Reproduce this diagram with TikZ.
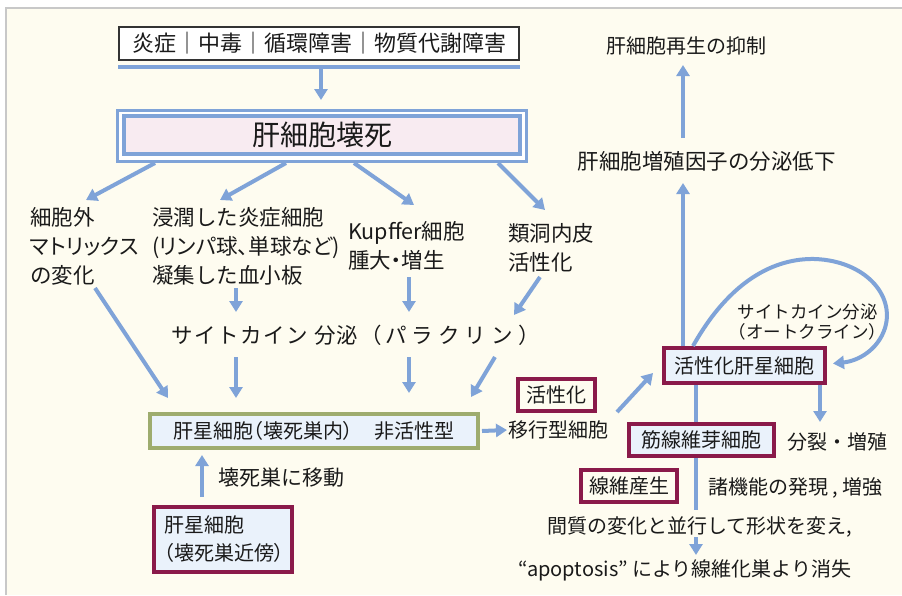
\documentclass[tikz,border=0pt]{standalone}
\usepackage{fontspec}
\setmainfont{Noto Sans CJK JP}
\newfontfamily\jpp{Noto Sans CJK JP}[RawFeature=+palt]
\usetikzlibrary{arrows.meta,calc}
\definecolor{bgc}{HTML}{FEFCF0}
\definecolor{arrc}{HTML}{7FA3D8}
\definecolor{mar}{HTML}{8A1A4A}
\definecolor{olv}{HTML}{9EAC6E}
\definecolor{lbfill}{HTML}{EAF2FB}
\definecolor{pnk}{HTML}{F8EBF1}
\definecolor{txt}{HTML}{1A1A1A}
\definecolor{frm}{HTML}{C8C8C8}
\newcommand\fsz[2]{\fontsize{#1}{#2}\selectfont}
\begin{document}
\begin{tikzpicture}[x=1pt,y=-1pt,
  arr/.style={draw=arrc, line width=4pt, -{Triangle[width=13pt,length=11pt]}},
  ln/.style={draw=arrc, line width=4pt},
  lbl/.style={inner sep=0pt, text=txt, font=\fsz{21.5}{29}, align=left},
  sml/.style={inner sep=0pt, text=txt, font=\fsz{20}{28}, align=left},
  mbox/.style={draw=mar, line width=4pt, fill=lbfill, inner sep=0pt, text=txt, font=\fsz{20}{28}},
  wbox/.style={draw=mar, line width=4pt, fill=bgc, inner sep=0pt, text=txt, font=\fsz{20}{28}}]
% background
\useasboundingbox (0,0) rectangle (902,595);
\fill[white] (0,0) rectangle (902,595);
\fill[bgc] (6,8) rectangle (902,595);
\draw[frm, line width=1.5pt] (6,595) -- (6,8) -- (902,8);

% top box
\node[draw=black!80, line width=1.6pt, fill=white, minimum width=400pt, minimum height=33pt, inner sep=0pt, font=\fsz{22}{26}, text=txt] (top) at (319,43.5) {炎症｜中毒｜循環障害｜物質代謝障害};
\draw[ln] ([yshift=-6pt]top.south west) -- ([yshift=-6pt]top.south east);

% title
\node[draw=arrc, line width=3pt, fill=white, minimum width=409pt, minimum height=51pt, inner sep=0pt] (tout) at (322,136) {};
\node[draw=arrc, line width=4pt, fill=pnk, minimum width=396pt, minimum height=38pt, inner sep=0pt, font=\fsz{28}{32}, text=txt] (tin) at (322.3,135) {肝細胞壊死};

% row 2
\node[lbl, anchor=west] (ecm) at (30,246) {細胞外\\{\jpp マトリックス}\\の変化};
\node[lbl, anchor=west] (infl) at (152,246) {浸潤した炎症細胞\\{\jpp (リンパ球、単球など)}\\凝集した血小板};
\node[lbl, anchor=west] (kup) at (348,246) {Kupffer細胞\\{\jpp 腫大・増生}};
\node[lbl, anchor=west] (sin) at (508,247.5) {類洞内皮\\活性化};
\node[inner sep=0pt, text=txt, font=\fsz{21.5}{26}, anchor=west] (para) at (171,335) {サ\hspace{1.5pt}イ\hspace{1.5pt}ト\hspace{1.5pt}カ\hspace{1.5pt}イ\hspace{1.5pt}ン\hspace{7pt}分泌\hspace{3pt}（\hspace{3pt}パ\hspace{5pt}ラ\hspace{5pt}ク\hspace{5pt}リ\hspace{5pt}ン\hspace{6pt}）};

% hsc boxes
\node[draw=olv, line width=4pt, fill=lbfill, minimum width=328pt, minimum height=34pt, inner sep=0pt, text=txt, font=\fsz{20}{28}] (hsc) at (314,431) {{\jpp 肝星細胞（壊死巣内）}\hspace{22pt}非活性型};
\node[mbox, minimum width=138pt, minimum height=65pt, text width=118pt, align=left, inner xsep=10pt] (hscn) at (223,539.5) {肝星細胞\\{\jpp （壊死巣近傍）}};
\node[inner sep=0pt, text=txt, font=\fsz{21}{26}, anchor=west] (mig) at (218,478) {壊死巣に移動};

% right side
\node[sml, anchor=west] (ikou) at (508,430) {移行型細胞};
\node[wbox, minimum width=77pt, minimum height=32pt] (act) at (556.5,395) {活性化};
\node[mbox, minimum width=161pt, minimum height=35pt] (ahsc) at (744.5,365.5) {活性化肝星細胞};
\node[inner sep=0pt, text=txt, font=\fsz{21.5}{26}] (gf) at (706.5,161) {肝細胞増殖因子の分泌低下};
\node[inner sep=0pt, text=txt, font=\fsz{20}{26}] (regen) at (686.5,46) {肝細胞再生の抑制};
\node[inner sep=0pt, text=txt, font=\fsz{17.5}{20}, align=center] (auto) at (807.5,322) {サイトカイン分泌\\（オートクライン）};
\node[sml, anchor=west] (div) at (787,442) {分裂・増殖};
\node[mbox, minimum width=145pt, minimum height=32pt] (myo) at (701.5,440) {筋線維芽細胞};
\node[wbox, minimum width=96pt, minimum height=32pt] (fib) at (629,486) {線維産生};
\node[sml, anchor=west] (func) at (708,488) {諸機能の発現 , 増強};
\node[sml] (kan) at (700,527) {間質の変化と並行して形状を変え,};
\node[sml] (apo) at (685,570) {{\jpp “apoptosis”} により線維化巣より消失};

% coordinates for free ends
\coordinate (e1) at (86,200);
\coordinate (e2) at (220,200);
\coordinate (e3) at (414,205);
\coordinate (e4) at (545,210);
\coordinate (b1s) at (236,288); \coordinate (b1e) at (236,312);
\coordinate (b2s) at (409,277); \coordinate (b2e) at (409,312);
\coordinate (b3s) at (540,277); \coordinate (b3e) at (514,315);
\coordinate (c1s) at (95,288);
\coordinate (c2s) at (236,357);
\coordinate (c3s) at (409,357);
\coordinate (c4s) at (495,357);
\coordinate (ks) at (617,412);

% arrows
\draw[arr] ([xshift=2pt,yshift=-8pt]top.south) -- ([xshift=-1pt,yshift=9pt]tout.north);
\draw[arr] ([xshift=-167pt]tout.south) -- (e1);
\draw[arr] ([xshift=-36pt]tout.south) -- (e2);
\draw[arr] ([xshift=32pt]tout.south) -- (e3);
\draw[arr] ([xshift=176pt]tout.south) -- (e4);
\draw[arr] (b1s) -- (b1e);
\draw[arr] (b2s) -- (b2e);
\draw[arr] (b3s) -- (b3e);
\draw[arr] (c1s) -- ([xshift=-146pt,yshift=14pt]hsc.north);
\draw[arr] (c2s) -- ([xshift=-78pt,yshift=14pt]hsc.north);
\draw[arr] (c3s) -- ([xshift=95pt,yshift=19pt]hsc.north);
\draw[arr] (c4s) -- ([xshift=157pt,yshift=15pt]hsc.north);
\draw[arr] ([xshift=2pt]hsc.east) -- ([xshift=-1pt]ikou.west);
\draw[arr] ([xshift=-21pt,yshift=8pt]hscn.north) -- ([xshift=-112pt,yshift=-5pt]hsc.south);
\draw[arr] (ks) -- ([xshift=-9pt,yshift=-7.5pt]ahsc.west);
\draw[arr] ([xshift=-61.5pt]ahsc.north) -- (683,183);
\draw[arr] (683,138) -- (683,65);
\draw[arr] ([xshift=-51.5pt]ahsc.north) .. controls (730,280) and (775,258) .. (815,259) .. controls (865,261) and (895,295) .. (885,328) .. controls (878,350) and (858,361) .. ([xshift=6pt,yshift=2pt]ahsc.east);
\draw[arr] ([xshift=75.5pt]ahsc.south) -- (820,422);
\draw[ln] ([xshift=-48.5pt]ahsc.south) -- ([xshift=-5.5pt]myo.north);
\draw[ln] ([xshift=-5.5pt]myo.south) -- (696,510);
\draw[arr] (696,537) -- (696,555);
\end{tikzpicture}
\end{document}
